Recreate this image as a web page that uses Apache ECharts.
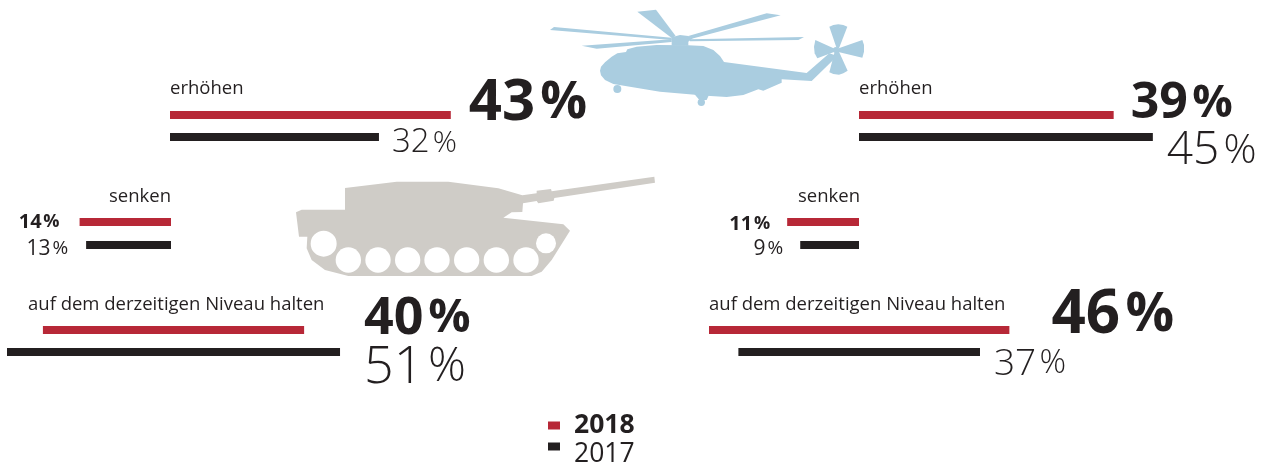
<!DOCTYPE html>
<html>
<head>
<meta charset="utf-8">
<style>
    html, body { margin: 0; padding: 0; background: #fff; }
    #chart { width: 1275px; height: 466px; }
</style>
<script src="https://cdn.jsdelivr.net/npm/echarts@6/dist/echarts.min.js"></script>
</head>
<body>
<div id="chart"></div>
<script>
// data
const years = ['2018', '2017'];
const answers = ['erhöhen', 'senken', 'auf dem derzeitigen Niveau halten'];
const tankValues2018 = [43, 14, 40];
const tankValues2017 = [32, 13, 51];
const heliValues2018 = [39, 11, 46];
const heliValues2017 = [45, 9, 37];

// layout
const FONT = '"Open Sans", sans-serif';
const RED = '#b72837';
const BLACK = '#231f20';
const TEXT = '#231f20';
const PX_PER_PCT = 6.53;

// one block per answer: anchor is the pixel x of the bar baseline
const blocks = [
    { answer: 0, v18: tankValues2018, v17: tankValues2017, anchor: 170, top: 104, band: 22, axisMax: 60, align: 'left', titleX: 170, titleY: 79,
      l18: { size: 58, weight: 700, dist: 18, dy: -12 }, l17: { size: 33, weight: 300, dist: 13, dy: 6 } },
    { answer: 1, v18: tankValues2018, v17: tankValues2017, anchor: 171, top: 210.5, band: 23, axisMax: 20, align: 'right', titleX: 109, titleY: 187,
      l18: { size: 20, weight: 700, dist: 20, dy: 0 }, l17: { size: 21, weight: 400, dist: 18, dy: 4 } },
    { answer: 2, v18: tankValues2018, v17: tankValues2017, anchor: 7, top: 319, band: 22, axisMax: 60, align: 'mid', titleX: 28, titleY: 295,
      l18: { size: 52, weight: 700, dist: 60, dy: -11 }, l17: { size: 52, weight: 300, dist: 24, dy: 16 } },
    { answer: 0, v18: heliValues2018, v17: heliValues2017, anchor: 859, top: 104, band: 22, axisMax: 60, align: 'left', titleX: 859, titleY: 79,
      l18: { size: 50, weight: 700, dist: 17, dy: -11 }, l17: { size: 46, weight: 300, dist: 14, dy: 14 } },
    { answer: 1, v18: heliValues2018, v17: heliValues2017, anchor: 859, top: 210.5, band: 23, axisMax: 20, align: 'right', titleX: 798, titleY: 187,
      l18: { size: 20, weight: 700, dist: 17, dy: 2 }, l17: { size: 21, weight: 400, dist: 17, dy: 4 } },
    { answer: 2, v18: heliValues2018, v17: heliValues2017, anchor: 709, top: 319, band: 22, axisMax: 60, align: 'mid', titleX: 709, titleY: 295,
      l18: { size: 60, weight: 700, dist: 42, dy: -14 }, l17: { size: 37, weight: 300, dist: 14, dy: 12 } }
];

const grids = [], xAxes = [], yAxes = [], series = [], titles = [];

function barItem(value, style, pos) {
    const common = { fontFamily: FONT, fontWeight: style.weight, color: TEXT };
    return {
        value: value,
        label: {
            show: true,
            position: pos,
            distance: style.dist,
            offset: [0, style.dy],
            // the percent sign is set a little smaller than the digits
            formatter: '{n|{c}}{p|\u200a%}',
            rich: {
                n: { ...common, fontSize: style.size },
                p: { ...common, fontSize: Math.round(style.size * 0.9) }
            }
        }
    };
}

blocks.forEach((b, i) => {
    const v18 = b.v18[b.answer];
    const v17 = b.v17[b.answer];
    const width = b.axisMax * PX_PER_PCT;
    const right = b.align === 'right';
    grids.push({
        left: right ? b.anchor - width : b.anchor,
        top: b.top,
        width: width,
        height: b.band * 2
    });
    xAxes.push({ type: 'value', gridIndex: i, min: 0, max: b.axisMax, inverse: right, show: false });
    yAxes.push({ type: 'category', gridIndex: i, data: years, inverse: true, show: false });

    // spacer so the two bars of the "halten" blocks sit centred on each other
    const big = Math.max(v18, v17);
    const spacer = b.align === 'mid' ? [(big - v18) / 2, (big - v17) / 2] : [0, 0];
    const pos = right ? 'left' : 'right';
    const common = { type: 'bar', xAxisIndex: i, yAxisIndex: i, stack: 'b' + i, barWidth: 8 };
    series.push({ ...common, name: 'spacer', data: spacer, itemStyle: { color: 'transparent' }, silent: true });
    series.push({ ...common, name: years[0], data: [barItem(v18, b.l18, pos), '-'], itemStyle: { color: RED } });
    series.push({ ...common, name: years[1], data: ['-', barItem(v17, b.l17, pos)], itemStyle: { color: BLACK } });

    titles.push({
        text: answers[b.answer],
        left: b.titleX,
        top: b.titleY,
        padding: 0,
        textStyle: { fontFamily: FONT, fontSize: 18.5, fontWeight: 400, color: TEXT }
    });
});

// silhouettes, traced in 3x crop coordinates
function trace(ox, oy, pts) {
    return pts.map(p => [ox + p[0] / 3, oy + p[1] / 3]);
}
function silhouette(ox, oy, color, pts) {
    return { type: 'polygon', silent: true, shape: { points: trace(ox, oy, pts) }, style: { fill: color } };
}
function dot(ox, oy, color, c) {
    return { type: 'circle', silent: true, shape: { cx: ox + c[0] / 3, cy: oy + c[1] / 3, r: c[2] / 3 }, style: { fill: color } };
}

const HELI = '#aacde0';
const heliShapes = [
    [[30, 90], [42, 81], [395, 113], [395, 120]],
    [[125, 137], [395, 118], [395, 126], [170, 146]],
    [[292, 35], [348, 29], [407, 108], [395, 114]],
    [[445, 108], [680, 40], [722, 46], [455, 116]],
    [[450, 118], [792, 111], [775, 120], [450, 124]],
    [[395, 112], [420, 105], [445, 108], [458, 115], [445, 125], [445, 137], [395, 137]],
    [[180, 212], [183, 200], [195, 187], [215, 170], [232, 160], [258, 156], [262, 148], [290, 140], [350, 135], [445, 136],
     [490, 138], [520, 150], [540, 168], [552, 186], [800, 219], [868, 160], [892, 168], [815, 243], [725, 238], [725, 248],
     [670, 272], [655, 268], [610, 285], [560, 291], [500, 287], [360, 275], [220, 252], [195, 240], [183, 226]],
    [[463, 282], [478, 300], [500, 300], [507, 284]],
    [[868, 80], [880, 75], [895, 73], [910, 75], [922, 80], [897, 145], [890, 145]],
    [[826, 120], [884, 146], [884, 155], [832, 175], [824, 160], [822, 140]],
    [[892, 146], [967, 120], [972, 135], [972, 155], [967, 173], [892, 155]],
    [[884, 155], [897, 155], [923, 212], [910, 220], [897, 224], [880, 222], [868, 217]]
];
const heliDots = [[232, 267, 12], [484, 307, 11], [888, 150, 9]];

const TANK = '#cfccc7';
const tankShape = [[33, 142], [50, 134], [180, 134], [180, 69], [335, 50], [490, 50], [640, 70], [712, 91], [755, 85], [755, 77],
    [798, 72], [800, 79], [1108, 35], [1110, 53], [808, 99], [806, 107], [760, 115], [755, 108], [714, 115], [712, 141], [680, 142],
    [655, 158], [835, 178], [855, 197], [800, 285], [770, 320], [740, 333], [190, 333], [120, 315], [80, 285], [65, 250], [67, 215],
    [42, 215]];
const tankWheels = [[116, 236, 39], [190, 285, 38], [279, 285, 38], [368, 285, 38], [456, 285, 38], [545, 285, 38], [634, 285, 38], [723, 285, 38], [783, 235, 30]];

const graphics = [
    ...heliShapes.map(p => silhouette(540, 0, HELI, p)),
    ...heliDots.map(c => dot(540, 0, HELI, c)),
    silhouette(285, 165, TANK, tankShape),
    ...tankWheels.map(c => dot(285, 165, '#ffffff', c))
];

function legendFor(name, top, rich) {
    return {
        data: [name],
        left: 548,
        top: top,
        padding: 0,
        itemWidth: 12,
        itemHeight: 8,
        itemGap: 0,
        icon: 'rect',
        selectedMode: false,
        textStyle: { padding: [0, 0, 0, 9], rich: { t: rich } },
        formatter: n => '{t|' + n + '}'
    };
}

const chart = echarts.init(document.getElementById('chart'), null, { renderer: 'canvas' });
chart.setOption({
    animation: false,
    backgroundColor: '#ffffff',
    title: titles,
    legend: [
        legendFor(years[0], 412, { fontFamily: FONT, fontSize: 26.5, fontWeight: 700, color: TEXT, lineHeight: 30 }),
        legendFor(years[1], 425, { fontFamily: FONT, fontSize: 26.5, fontWeight: 400, color: TEXT, lineHeight: 30, padding: [16, 0, 0, 0] })
    ],
    grid: grids,
    xAxis: xAxes,
    yAxis: yAxes,
    series: series,
    graphic: graphics
});
window.addEventListener('resize', () => chart.resize());
</script>
</body>
</html>
